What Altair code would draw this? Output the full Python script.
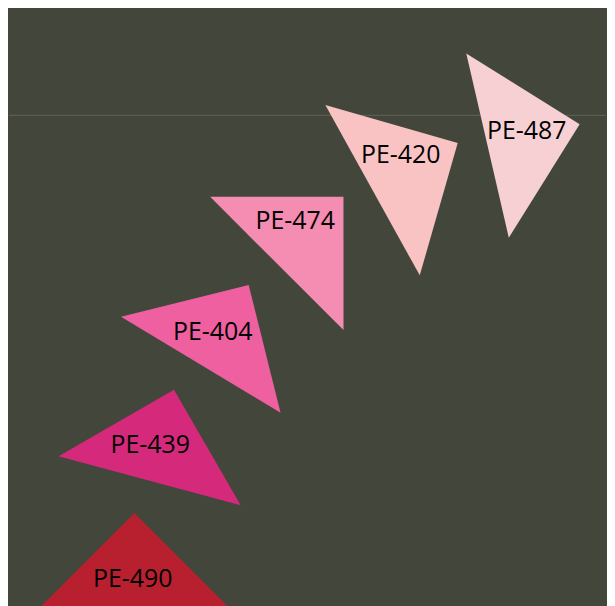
import altair as alt
import pandas as pd

# Data
codes = ["PE-490", "PE-439", "PE-404", "PE-474", "PE-420", "PE-487"]
x_vals = [126.0, 149.5, 208.8, 291.5, 393.9, 511.8]
y_vals = [31.0, 156.9, 269.7, 367.1, 434.2, 470.3]
angles = [0, 15, 31, 45, 61, 77]
sizes = [35700, 35900, 35000, 35900, 38300, 36100]
label_x = [124.3, 142.0, 204.7, 287.7, 393.7, 520.3]
label_y = [28.0, 162.3, 276.3, 387.0, 453.7, 478.0]
colors = ["#b8202f", "#d52a7b", "#ef60a0", "#f58cb2", "#f9c3c3", "#f7d0d3"]
ref_y = [493.7]

df = pd.DataFrame({
    "code": codes, "x": x_vals, "y": y_vals, "angle": angles, "size": sizes,
    "lx": label_x, "ly": label_y,
})
ref = pd.DataFrame({"y": ref_y})

xs = alt.Scale(domain=[0, 600], nice=False, zero=False)
ys = alt.Scale(domain=[0, 600], nice=False, zero=False)

# right-isosceles triangle with centroid at origin
TRI = "M0,-0.6667L1,0.3333L-1,0.3333Z"

rule = alt.Chart(ref).mark_rule(color="#62655a", strokeWidth=1).encode(
    y=alt.Y("y:Q", scale=ys, axis=None)
)

tri = alt.Chart(df).mark_point(
    shape=TRI, filled=True, opacity=1, strokeWidth=0
).encode(
    x=alt.X("x:Q", scale=xs, axis=None),
    y=alt.Y("y:Q", scale=ys, axis=None),
    angle=alt.Angle("angle:Q", scale=None),
    size=alt.Size("size:Q", scale=None),
    color=alt.Color("code:N", scale=alt.Scale(domain=codes, range=colors), legend=None),
)

labels = alt.Chart(df).mark_text(
    font="Open Sans", fontSize=25, color="#000000", baseline="middle", align="center"
).encode(
    x=alt.X("lx:Q", scale=xs, axis=None),
    y=alt.Y("ly:Q", scale=ys, axis=None),
    text="code:N",
)

chart = alt.layer(rule, tri, labels).properties(
    width=600, height=600, background="#43463b", padding=0
).configure_view(stroke=None)

chart.save("out.html", embed_options={"renderer": "svg", "actions": False})
